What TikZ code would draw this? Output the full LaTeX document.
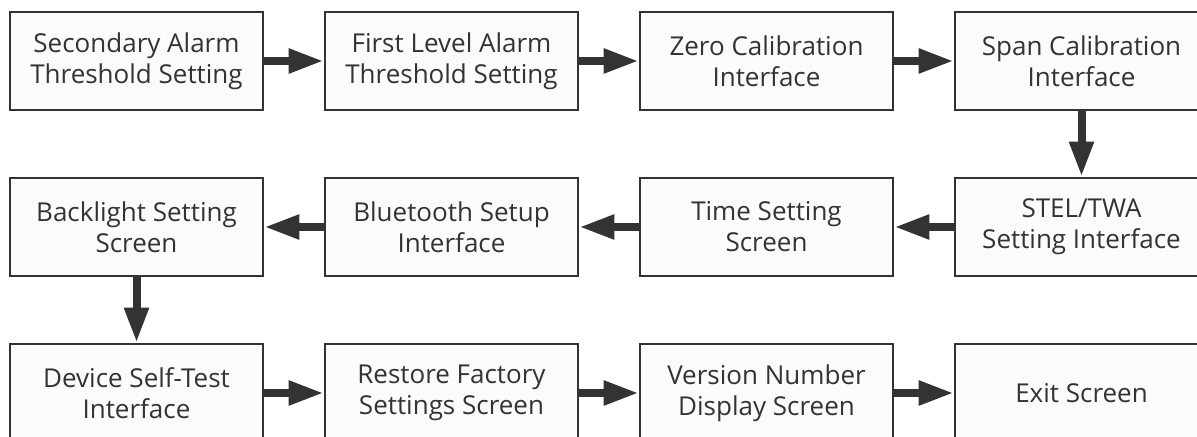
\documentclass[tikz,border=0pt]{standalone}
\usepackage{fontspec}
\setmainfont{Open Sans}
\usepackage{tikz}
\usetikzlibrary{arrows.meta, positioning}

\definecolor{boxline}{HTML}{333333}
\definecolor{boxfill}{HTML}{FBFBFB}

\begin{document}
\begin{tikzpicture}[
        obj/.style={rectangle, draw=boxline, line width=1.3pt, fill=boxfill, text=boxline,
            minimum width=126.5pt, minimum height=49pt, align=center,
            font=\fontsize{13}{15.5}\selectfont},
        arrow/.style={-{Triangle[length=17.5pt, width=11.5pt]}, line width=4pt, draw=boxline}
    ]

    \useasboundingbox (-68.25pt,30.5pt) rectangle (530.25pt,-188pt);
    \clip (-68.25pt,30.5pt) rectangle (530.25pt,-188pt);

    % Row 1
    \node (second) [obj] at (0,0) {Secondary Alarm\\Threshold Setting};
    \node (first) [obj, right=29.7pt of second] {First Level Alarm\\Threshold Setting};
    \node (zero) [obj, right=29.7pt of first] {Zero Calibration\\Interface};
    \node (span) [obj, right=29.7pt of zero] {Span Calibration\\Interface};

    % Row 2
    \node (stel) [obj, below=32.7pt of span] {STEL/TWA\\Setting Interface};
    \node (time) [obj, left=29.7pt of stel] {Time Setting\\Screen};
    \node (blue) [obj, left=29.7pt of time] {Bluetooth Setup\\Interface};
    \node (back) [obj, left=29.7pt of blue] {Backlight Setting\\Screen};

    % Row 3
    \node (self) [obj, below=32.7pt of back] {Device Self-Test\\Interface};
    \node (restore) [obj, right=29.7pt of self] {Restore Factory\\Settings Screen};
    \node (version) [obj, right=29.7pt of restore] {Version Number\\Display Screen};
    \node (exit) [obj, right=29.7pt of version] {Exit Screen};

    % Flow
    \draw [arrow] (second) -- (first);
    \draw [arrow] (first) -- (zero);
    \draw [arrow] (zero) -- (span);
    \draw [arrow] (span) -- (stel);
    \draw [arrow] (stel) -- (time);
    \draw [arrow] (time) -- (blue);
    \draw [arrow] (blue) -- (back);
    \draw [arrow] (back) -- (self);
    \draw [arrow] (self) -- (restore);
    \draw [arrow] (restore) -- (version);
    \draw [arrow] (version) -- (exit);

\end{tikzpicture}
\end{document}
